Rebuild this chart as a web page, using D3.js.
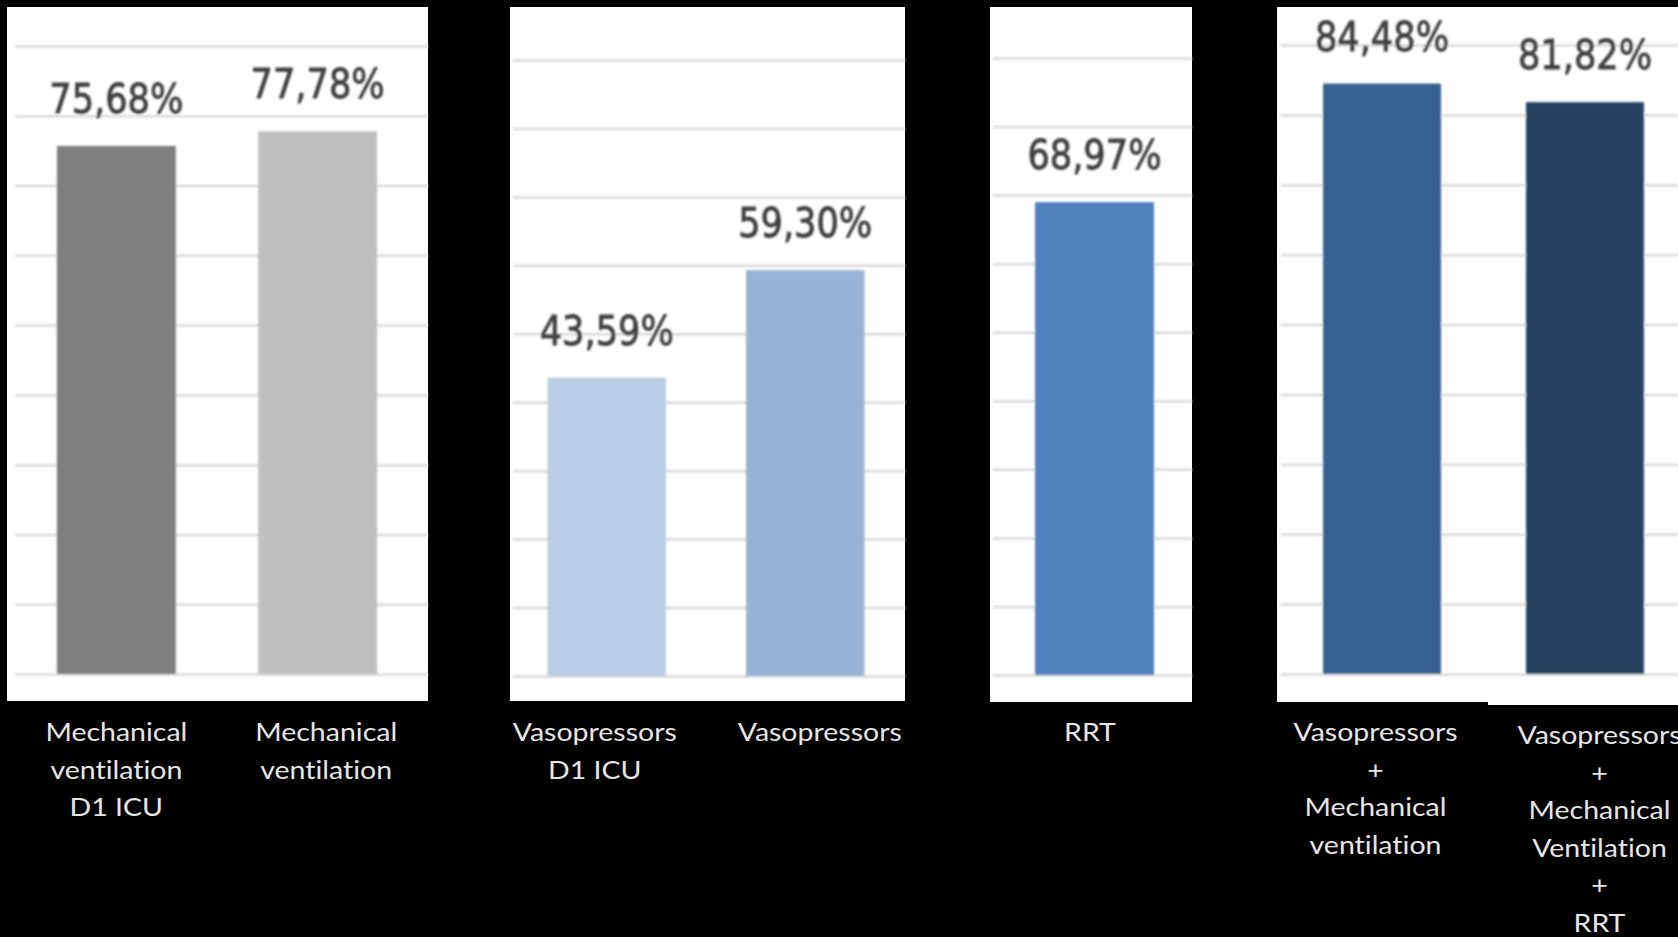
<!DOCTYPE html>
<html>
<head>
<meta charset="utf-8">
<script src="https://cdn.jsdelivr.net/npm/d3@7"></script>
<style>
  html, body { margin: 0; padding: 0; background: #000; }
  svg { display: block; }
  text { font-variant-ligatures: none; font-feature-settings: "liga" 0, "clig" 0; }
</style>
</head>
<body>
<svg id="chart" width="1678" height="937"></svg>
<script>
// Category labels, one entry per bar, split into display lines
const categories = [
  ["Mechanical", "ventilation", "D1 ICU"],
  ["Mechanical", "ventilation"],
  ["Vasopressors", "D1 ICU"],
  ["Vasopressors"],
  ["RRT"],
  ["Vasopressors", "+", "Mechanical", "ventilation"],
  ["Vasopressors", "+", "Mechanical", "Ventilation", "+", "RRT"]
];
// Percentage for each bar
const values = [75.68, 77.78, 43.59, 59.30, 68.97, 84.48, 81.82];
// Which panel each bar belongs to
const panelOf = [0, 0, 1, 1, 2, 3, 3];
// Gridline values (percent)
const gridTicks = [0, 10, 20, 30, 40, 50, 60, 70, 80, 90];

// Styling
const barColors = ["#7f7f7f", "#bfbfbf", "#b9cde5", "#95b3d7", "#4f81bd", "#366092", "#254061"];
const labelShift = [0, 8.5, -12, 14.5, -4.5, -6.5, 14.5];
const labelDrop  = [0, 0, 0, 0, 0, 0, 3];

// Panel frames and plot areas
const panels = [
  { x0: 7,    x1: 428,  y0: 7, y1: 701, gridX0: 15,   top: 46, base: 674, band: [15, 419],    pi: 0.409, po: 0.208 },
  { x0: 510,  x1: 905,  y0: 7, y1: 701, gridX0: 513,  top: 60, base: 676, band: [513, 899],   pi: 0.403, po: 0.174 },
  { x0: 990,  x1: 1192, y0: 7, y1: 702, gridX0: 993,  top: 58, base: 675, band: [995, 1194],  pi: 0,     po: 0.336 },
  { x0: 1277, x1: 1678, y0: 7, y1: 702, gridX0: 1281, top: 45, base: 674, band: [1281, 1686], pi: 0.419, po: 0.207 }
];

const svg = d3.select("#chart");
svg.append("rect").attr("width", 1678).attr("height", 937).attr("fill", "#000");

const defs = svg.append("defs");
defs.append("filter").attr("id", "soft")
  .attr("x", "-5%").attr("y", "-5%").attr("width", "110%").attr("height", "110%")
  .append("feGaussianBlur").attr("stdDeviation", 0.9);

const fmt = v => d3.format(".2f")(v).replace(".", ",") + "%";

const items = values.map((v, i) => ({ i, v, cat: categories[i], panel: panelOf[i] }));

panels.forEach((p, pIdx) => {
  const rows = items.filter(d => d.panel === pIdx);

  // white panel background
  svg.append("rect")
    .attr("x", p.x0).attr("y", p.y0)
    .attr("width", p.x1 - p.x0).attr("height", p.y1 - p.y0)
    .attr("fill", "#fff");
  if (pIdx === 3) {
    svg.append("rect")
      .attr("x", 1488).attr("y", p.y0)
      .attr("width", p.x1 - 1488).attr("height", 705 - p.y0)
      .attr("fill", "#fff");
  }

  const y = d3.scaleLinear().domain([0, 90]).range([p.base, p.top]);
  const x = d3.scaleBand()
    .domain(rows.map(d => d.i))
    .range(p.band)
    .paddingInner(p.pi)
    .paddingOuter(p.po);

  const g = svg.append("g").attr("filter", "url(#soft)");

  // horizontal gridlines from an axis with full-width ticks
  const grid = g.append("g")
    .attr("transform", `translate(${p.gridX0},0)`)
    .call(d3.axisRight(y).tickValues(gridTicks).tickSize(p.x1 - p.gridX0).tickFormat(""));
  grid.select(".domain").remove();
  grid.selectAll(".tick line").attr("stroke", "#d9d9d9").attr("stroke-width", 2.5);

  // bars
  g.selectAll("rect.bar").data(rows).join("rect")
    .attr("class", "bar")
    .attr("x", d => x(d.i))
    .attr("width", x.bandwidth())
    .attr("y", d => y(d.v))
    .attr("height", d => y(0) - y(d.v))
    .attr("fill", d => barColors[d.i]);

  // value labels
  g.selectAll("text.val").data(rows).join("text")
    .attr("class", "val")
    .attr("transform", d => `translate(${x(d.i) + x.bandwidth() / 2},${y(d.v) - 33}) scale(0.88,1)`)
    .attr("text-anchor", "middle")
    .attr("font-family", "DejaVu Sans")
    .attr("font-size", 40)
    .attr("fill", "#3f3f3f")
    .attr("stroke", "#3f3f3f")
    .attr("stroke-width", 0.9)
    .text(d => fmt(d.v));

  // category labels under each panel
  const lab = svg.selectAll(null).data(rows).join("g")
    .attr("transform", d => `translate(${x(d.i) + x.bandwidth() / 2 + labelShift[d.i]},${741 + labelDrop[d.i]})`);
  lab.each(function (d) {
    const t = d3.select(this);
    d.cat.forEach((line, k) => {
      t.append("text")
        .attr("transform", `translate(0,${k * 37.6}) scale(1.14,1)`)
        .attr("text-anchor", "middle")
        .attr("font-family", "Lato")
        .attr("font-size", 25)
        .attr("fill", "#e6e6e6")
        .text(line);
    });
  });
});
</script>
</body>
</html>
